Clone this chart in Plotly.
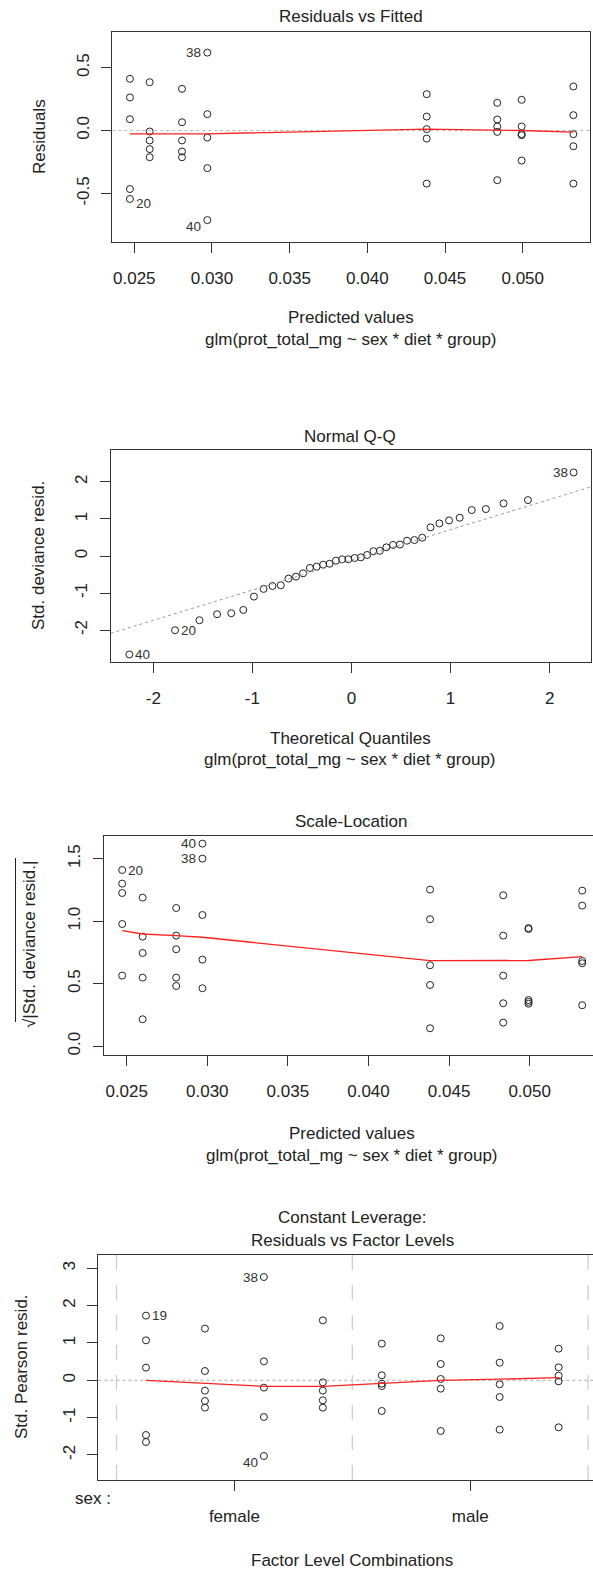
import plotly.graph_objects as go

W, H = 593, 1573
FONT = "Liberation Sans, Arial, sans-serif"

# ---------------- data ----------------
# fitted values (one per group of 5 observations)
fitted_levels = [0.02472, 0.02599, 0.02807, 0.02970, 0.04382, 0.04836, 0.04993, 0.05326]

# Panel 1: residuals per fitted level
resid_groups = [
    [0.411, 0.263, 0.090, -0.465, -0.544],
    [0.384, -0.008, -0.079, -0.148, -0.212],
    [0.331, 0.066, -0.079, -0.167, -0.212],
    [0.619, 0.130, -0.056, -0.299, -0.712],
    [0.289, 0.111, 0.011, -0.064, -0.422],
    [0.220, 0.088, 0.032, -0.011, -0.395],
    [0.244, 0.032, -0.029, -0.037, -0.239],
    [0.350, 0.122, -0.029, -0.125, -0.422],
]
resid_smooth = [-0.026, -0.026, -0.026, -0.026, 0.011, 0.005, 0.000, -0.012]

# Panel 2: Normal Q-Q
theo_quant = [-2.2414, -1.7805, -1.5341, -1.3563, -1.2133, -1.0920, -0.9845, -0.8871,
              -0.7975, -0.7137, -0.6356, -0.5605, -0.4888, -0.4195, -0.3518, -0.2858,
              -0.2211, -0.1573, -0.0941, -0.0313, 0.0313, 0.0941, 0.1573, 0.2211,
              0.2858, 0.3518, 0.4195, 0.4888, 0.5605, 0.6356, 0.7137, 0.7975,
              0.8871, 0.9845, 1.0920, 1.2133, 1.3563, 1.5341, 1.7805, 2.2414]
std_dev_resid = [-2.659, -2.004, -1.734, -1.572, -1.545, -1.456, -1.096, -0.889,
                 -0.810, -0.790, -0.611, -0.557, -0.467, -0.323, -0.288, -0.234,
                 -0.210, -0.126, -0.090, -0.088, -0.054, -0.036, 0.027, 0.130,
                 0.140, 0.234, 0.300, 0.310, 0.413, 0.431, 0.494, 0.773,
                 0.880, 0.961, 1.033, 1.240, 1.267, 1.420, 1.509, 2.255]
qq_line_intercept = -0.105
qq_line_slope = 0.816

# Panel 3: Scale-Location
sqrt_groups = [
    [1.410, 1.301, 1.226, 0.978, 0.565],
    [1.189, 0.877, 0.746, 0.549, 0.216],
    [1.106, 0.885, 0.776, 0.549, 0.482],
    [1.621, 1.501, 1.050, 0.693, 0.464],
    [1.253, 1.016, 0.648, 0.490, 0.144],
    [1.208, 0.885, 0.565, 0.344, 0.189],
    [0.945, 0.938, 0.370, 0.355, 0.340],
    [1.245, 1.125, 0.682, 0.664, 0.328],
]
sqrt_smooth = [0.925, 0.898, 0.885, 0.872, 0.685, 0.685, 0.686, 0.717]

# Panel 4: Residuals vs Factor Levels
factor_pos = [1, 2, 3, 4, 5, 6, 7, 8]
pearson_groups = [
    [1.733, 1.071, 0.340, -1.465, -1.652],
    [1.385, 0.249, -0.276, -0.554, -0.732],
    [2.767, 0.509, -0.196, -0.982, -2.027],
    [1.607, -0.054, -0.276, -0.536, -0.732],
    [0.982, 0.134, -0.089, -0.152, -0.821],
    [1.125, 0.437, 0.036, -0.223, -1.357],
    [1.455, 0.473, -0.107, -0.446, -1.321],
    [0.848, 0.348, 0.125, -0.027, -1.259],
]
pearson_smooth = [0.0, -0.08, -0.16, -0.16, -0.07, 0.0, 0.03, 0.07]
sex_levels = ["female", "male"]
sex_tick_pos = [2.5, 6.5]
sex_boundaries = [0.5, 4.5, 8.5]

x_ticks_fitted = [0.025, 0.030, 0.035, 0.040, 0.045, 0.050]
subtitle = "glm(prot_total_mg ~ sex * diet * group)"


def px_x(p):
    return p / W


def px_y(p):
    return 1 - p / H


def flat_xy(xs, groups):
    X, Y = [], []
    for x, g in zip(xs, groups):
        for v in g:
            X.append(x)
            Y.append(v)
    return X, Y


fig = go.Figure()
marker = dict(symbol="circle-open", size=7, color="#222", line=dict(width=1, color="#222"))
red = dict(color="#ff2020", width=1.3)

# Panel 1
x1, y1 = flat_xy(fitted_levels, resid_groups)
fig.add_trace(go.Scatter(x=x1, y=y1, mode="markers", marker=marker, xaxis="x", yaxis="y"))
fig.add_trace(go.Scatter(x=fitted_levels, y=resid_smooth, mode="lines", line=red, xaxis="x", yaxis="y"))

# Panel 2
fig.add_trace(go.Scatter(x=theo_quant, y=std_dev_resid, mode="markers", marker=marker, xaxis="x2", yaxis="y2"))
qx = [-2.43, 2.417]
fig.add_trace(go.Scatter(x=qx, y=[qq_line_intercept + qq_line_slope * v for v in qx], mode="lines",
                         line=dict(color="#999", width=1, dash="dot"), xaxis="x2", yaxis="y2"))

# Panel 3
x3, y3 = flat_xy(fitted_levels, sqrt_groups)
fig.add_trace(go.Scatter(x=x3, y=y3, mode="markers", marker=marker, xaxis="x3", yaxis="y3"))
fig.add_trace(go.Scatter(x=fitted_levels, y=sqrt_smooth, mode="lines", line=red, xaxis="x3", yaxis="y3"))

# Panel 4
x4, y4 = flat_xy(factor_pos, pearson_groups)
fig.add_trace(go.Scatter(x=x4, y=y4, mode="markers", marker=marker, xaxis="x4", yaxis="y4"))
fig.add_trace(go.Scatter(x=factor_pos, y=pearson_smooth, mode="lines", line=red, xaxis="x4", yaxis="y4"))

tickfont = dict(family=FONT, size=17, color="#222")
LINEC = "#333"


def xax(domain, rng, tickvals, ticktext=None, anchor="y"):
    d = dict(domain=domain, range=rng, showline=True, linecolor=LINEC, linewidth=1, mirror=True,
             ticks="outside", ticklen=10, tickcolor=LINEC, tickwidth=1, showgrid=False, zeroline=False,
             tickvals=tickvals, tickfont=tickfont, ticklabelstandoff=11, anchor=anchor, automargin=False)
    if ticktext is not None:
        d["ticktext"] = ticktext
    return d


def yax(domain, rng, tickvals, ticktext, anchor, mirror=True):
    return dict(domain=domain, range=rng, showline=True, linecolor=LINEC, linewidth=1, mirror=mirror,
                ticks="outside", ticklen=10, tickcolor=LINEC, tickwidth=1, showgrid=False, zeroline=False,
                tickvals=tickvals, ticktext=ticktext, tickangle=-90, tickfont=tickfont,
                ticklabelstandoff=6, anchor=anchor, automargin=False)


fit_text = ["%.3f" % v for v in x_ticks_fitted]
fig.update_layout(
    width=W, height=H, margin=dict(l=0, r=0, t=0, b=0),
    paper_bgcolor="white", plot_bgcolor="white", showlegend=False,
    font=dict(family=FONT, size=17, color="#222"),
    xaxis=xax([px_x(112.3), px_x(590)], [0.023584, 0.05433], x_ticks_fitted, fit_text, "y"),
    yaxis=yax([px_y(242), px_y(32)], [-0.886, 0.783], [-0.5, 0.0, 0.5], ["-0.5", "0.0", "0.5"], "x"),
    xaxis2=xax([px_x(110.7), px_x(591)], [-2.43, 2.417], [-2, -1, 0, 1, 2], ["-2", "-1", "0", "1", "2"], "y2"),
    yaxis2=yax([px_y(661.7), px_y(450.3)], [-2.854, 2.854], [-2, -1, 0, 1, 2], ["-2", "-1", "0", "1", "2"], "x2"),
    xaxis3=xax([px_x(104), 1.0], [0.023592, 0.05393], x_ticks_fitted, fit_text, "y3"),
    yaxis3=yax([px_y(1055), px_y(836)], [-0.07, 1.682], [0.0, 0.5, 1.0, 1.5], ["0.0", "0.5", "1.0", "1.5"], "x3", mirror=False),
    xaxis4=xax([px_x(98.3), 1.0], [0.191, 8.583], sex_tick_pos, sex_levels, "y4"),
    yaxis4=yax([px_y(1480), px_y(1255)], [-2.67, 3.357], [-2, -1, 0, 1, 2, 3], ["-2", "-1", "0", "1", "2", "3"], "x4", mirror=False),
)

shapes = []
# zero reference lines
shapes.append(dict(type="line", xref="x domain", x0=0, x1=1, yref="y", y0=0, y1=0,
                   line=dict(color="#bbb", width=1.2, dash="dot"), layer="below"))
shapes.append(dict(type="line", xref="x4 domain", x0=0, x1=1, yref="y4", y0=0, y1=0,
                   line=dict(color="#bbb", width=1.2, dash="dot"), layer="below"))
for b in sex_boundaries:
    shapes.append(dict(type="line", xref="x4", x0=b, x1=b, yref="y4 domain", y0=0, y1=1,
                       line=dict(color="#ccc", width=1.2, dash="longdash"), layer="below"))
# overbar of sqrt in panel-3 y title
shapes.append(dict(type="line", xref="paper", yref="paper", x0=px_x(15.5), x1=px_x(15.5),
                   y0=px_y(1022), y1=px_y(858), line=dict(color="#222", width=1)))
fig.update_layout(shapes=shapes)

ann = []


def txt(x, y, s, size=17, angle=0, xanchor="center"):
    ann.append(dict(x=px_x(x), y=px_y(y), xref="paper", yref="paper", text=s, showarrow=False,
                    font=dict(family=FONT, size=size, color="#222"), textangle=angle,
                    xanchor=xanchor, yanchor="middle"))


# titles
txt(351, 17, "Residuals vs Fitted")
txt(350, 436, "Normal Q-Q")
txt(351, 821, "Scale-Location")
txt(352, 1217, "Constant Leverage:")
txt(352, 1240, "Residuals vs Factor Levels")
# x titles
txt(351, 318, "Predicted values")
txt(351, 339, subtitle)
txt(350, 738, "Theoretical Quantiles")
txt(350, 759, subtitle)
txt(352, 1133, "Predicted values")
txt(352, 1155, subtitle)
txt(352, 1560, "Factor Level Combinations")
txt(93, 1498, "sex :")
# y titles
txt(40, 137, "Residuals", angle=-90)
txt(38, 556, "Std. deviance resid.", angle=-90)
txt(29, 945, "√|Std. deviance resid.|", angle=-90)
txt(21, 1367, "Std. Pearson resid.", angle=-90)


def lab(xr, yr, x, y, s, side, dy=0):
    ann.append(dict(x=x, y=y, xref=xr, yref=yr, text=s, showarrow=False,
                    font=dict(family=FONT, size=13.5, color="#333"),
                    xanchor="left" if side == "r" else "right", yanchor="middle",
                    xshift=4 if side == "r" else -4, yshift=-dy))


lab("x", "y", fitted_levels[3], resid_groups[3][0], "38", "l")
lab("x", "y", fitted_levels[3], resid_groups[3][4], "40", "l", dy=6)
lab("x", "y", fitted_levels[0], resid_groups[0][4], "20", "r", dy=5)
lab("x2", "y2", theo_quant[0], std_dev_resid[0], "40", "r")
lab("x2", "y2", theo_quant[1], std_dev_resid[1], "20", "r")
lab("x2", "y2", theo_quant[-1], std_dev_resid[-1], "38", "l")
lab("x3", "y3", fitted_levels[0], sqrt_groups[0][0], "20", "r")
lab("x3", "y3", fitted_levels[3], sqrt_groups[3][0], "40", "l")
lab("x3", "y3", fitted_levels[3], sqrt_groups[3][1], "38", "l")
lab("x4", "y4", factor_pos[0], pearson_groups[0][0], "19", "r")
lab("x4", "y4", factor_pos[2], pearson_groups[2][0], "38", "l")
lab("x4", "y4", factor_pos[2], pearson_groups[2][4], "40", "l", dy=6)

fig.update_layout(annotations=ann)
fig.write_html(
    "out.html",
    config={"displayModeBar": False, "staticPlot": True},
    post_script="document.body.style.margin='0';document.documentElement.style.overflow='hidden';document.body.style.overflow='hidden';",
)
